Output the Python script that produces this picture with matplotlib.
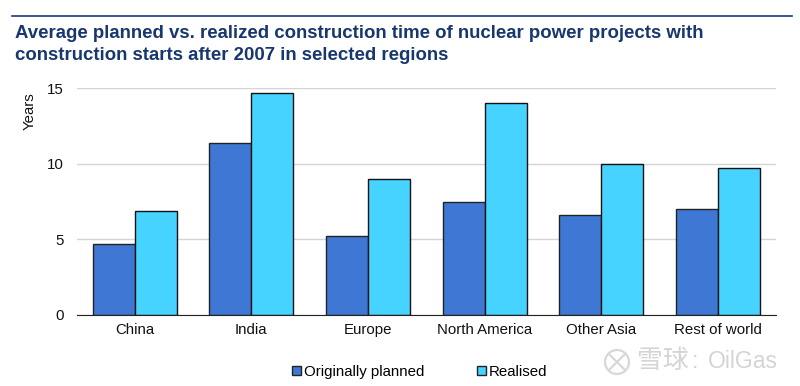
import matplotlib
matplotlib.use("Agg")
import matplotlib.pyplot as plt
import numpy as np
from matplotlib.lines import Line2D
from matplotlib.patches import Patch, Circle
from matplotlib.transforms import IdentityTransform

plt.rcParams['font.family'] = ['Liberation Sans', 'Noto Sans CJK SC', 'DejaVu Sans']

categories = ["China", "India", "Europe", "North America", "Other Asia", "Rest of world"]
planned = [4.7, 11.35, 5.2, 7.5, 6.6, 7.0]
realised = [6.9, 14.7, 9.0, 14.0, 10.0, 9.7]
yticks = [0, 5, 10, 15]

W, H = 800, 386
fig = plt.figure(figsize=(W/100, H/100), dpi=100)
ax = fig.add_axes([76.5/W, 1-315/H, 699.5/W, 227/H])
x = np.arange(len(categories))
bw = 0.36
ax.bar(x-bw/2, planned, bw, color="#3F78D4", edgecolor="#222222", linewidth=1, zorder=3)
ax.bar(x+bw/2, realised, bw, color="#47D3FF", edgecolor="#111111", linewidth=1, zorder=3)
ax.set_xlim(-0.5, 5.5)
ax.set_ylim(0, 15)
ax.set_yticks(yticks)
ax.set_xticks(x, categories)
ax.tick_params(axis='both', length=0, labelsize=10.8, colors="#111111")
ax.tick_params(axis='y', pad=9)
ax.tick_params(axis='x', pad=6)
ax.grid(axis='y', color="#D4D4D4", linewidth=1, zorder=0)
for s in ['top', 'right', 'left']:
    ax.spines[s].set_visible(False)
ax.spines['bottom'].set_color("#222222")
ax.spines['bottom'].set_zorder(5)
fig.text(30/W, 1-111/H, "Years", fontsize=10.8, color="#111111", rotation=90, ha='center', va='center')

fig.add_artist(Line2D([12/W, 792/W], [1-16/H, 1-16/H], color="#1B3A7A", linewidth=1.2))
fig.text(15/W, 1-33/H, "Average planned vs. realized construction time of nuclear power projects with",
         fontsize=13.45, fontweight='bold', color="#17376E", va='center')
fig.text(15/W, 1-55.5/H, "construction starts after 2007 in selected regions",
         fontsize=13.45, fontweight='bold', color="#17376E", va='center')

handles = [Patch(facecolor="#3F78D4", edgecolor="#222222"), Patch(facecolor="#47D3FF", edgecolor="#222222")]
fig.legend(handles, ["Originally planned", "Realised"], loc='center', bbox_to_anchor=(420/W, 1-372/H),
           ncol=2, frameon=False, fontsize=10.8, handlelength=0.6, handleheight=0.6,
           handletextpad=0.2, columnspacing=3.5)

# watermark
icon_c = (617, H-362)
fig.add_artist(Circle(icon_c, 12, transform=IdentityTransform(), fill=False, edgecolor="#D8D8D8", linewidth=1.6))
for dx in (-1, 1):
    fig.add_artist(Line2D([icon_c[0]-8, icon_c[0]+8], [icon_c[1]-8*dx, icon_c[1]+8*dx],
                          transform=IdentityTransform(), color="#D8D8D8", linewidth=1.6))
wm = dict(color="#D4D4D4", va='center')
fig.text(637/W, 1-361/H, "雪球", fontsize=18.5, **wm)
fig.text(692/W, 1-361/H, ":", fontsize=16.5, **wm)
fig.text(708/W, 1-362/H, "OilGas", fontsize=16.5, **wm)
fig.savefig("out.png", dpi=100)
